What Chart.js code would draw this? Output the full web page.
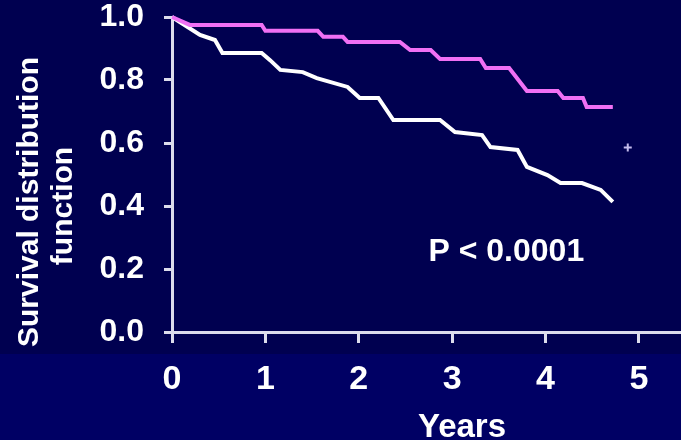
<!DOCTYPE html>
<html>
<head>
<meta charset="utf-8">
<script src="https://cdn.jsdelivr.net/npm/chart.js@4"></script>
<style>
  html, body { margin: 0; padding: 0; background: #000050; }
  #wrap { width: 681px; height: 440px; }
</style>
</head>
<body>
<div id="wrap"><canvas id="c" width="681" height="440"></canvas></div>
<script>
// ---- data ----
const groupAYears = [0, 0.19, 0.96, 1.0, 1.56, 1.62, 1.83, 1.88, 2.44, 2.55, 2.77, 2.87, 3.30, 3.36, 3.61, 3.80, 4.13, 4.19, 4.40, 4.44, 4.72];
const groupASurv  = [1.0, 0.975, 0.975, 0.956, 0.956, 0.937, 0.937, 0.921, 0.921, 0.895, 0.895, 0.867, 0.867, 0.838, 0.838, 0.765, 0.765, 0.743, 0.743, 0.714, 0.714];

const groupBYears = [0, 0.30, 0.46, 0.54, 0.96, 1.05, 1.16, 1.40, 1.55, 1.88, 2.01, 2.21, 2.37, 2.87, 3.03, 3.32, 3.41, 3.70, 3.80, 4.02, 4.16, 4.39, 4.59, 4.72];
const groupBSurv  = [1.0, 0.943, 0.927, 0.886, 0.886, 0.863, 0.832, 0.825, 0.806, 0.778, 0.743, 0.743, 0.673, 0.673, 0.635, 0.625, 0.587, 0.578, 0.524, 0.498, 0.473, 0.473, 0.451, 0.413];

const censorYears = [4.88];
const censorSurv  = [0.586];

const xTickLabels = ['0', '1', '2', '3', '4', '5'];
const yTickLabels = ['0.0', '0.2', '0.4', '0.6', '0.8', '1.0'];
const yTitleLines = ['Survival distribution', 'function'];
const xTitle = 'Years';
const pText = 'P < 0.0001';
const pPos = [3.58, 0.254];

const toPts = (xs, ys) => xs.map((x, i) => ({ x: x, y: ys[i] }));

const FONT = '"Liberation Sans", Arial, Helvetica, sans-serif';
const AXIS = '#dcdcec';

const bgPlugin = {
  id: 'bg',
  beforeDraw(chart) {
    const ctx = chart.ctx;
    ctx.save();
    ctx.fillStyle = '#000050';
    ctx.fillRect(0, 0, chart.width, 354);
    ctx.fillStyle = '#000064';
    ctx.fillRect(0, 354, chart.width, chart.height - 354);
    ctx.restore();
  }
};

const textPlugin = {
  id: 'texts',
  afterDraw(chart) {
    const ctx = chart.ctx;
    const xs = chart.scales.x, ys = chart.scales.y;
    ctx.save();
    ctx.fillStyle = '#ffffff';
    ctx.textAlign = 'center';
    ctx.textBaseline = 'middle';
    // y axis title (two rotated lines)
    ctx.font = 'bold 30px ' + FONT;
    ctx.save();
    ctx.translate(30, 202);
    ctx.rotate(-Math.PI / 2);
    ctx.fillText(yTitleLines[0], 0, 0);
    ctx.restore();
    ctx.save();
    ctx.translate(64, 206);
    ctx.rotate(-Math.PI / 2);
    ctx.fillText(yTitleLines[1], 0, 0);
    ctx.restore();
    // x axis title
    ctx.font = 'bold 33px ' + FONT;
    ctx.textBaseline = 'alphabetic';
    ctx.fillText(xTitle, 462, 437);
    // p-value annotation
    ctx.font = 'bold 32px ' + FONT;
    ctx.textBaseline = 'middle';
    ctx.fillText(pText, xs.getPixelForValue(pPos[0]), ys.getPixelForValue(pPos[1]));
    ctx.restore();
  }
};

new Chart(document.getElementById('c'), {
  type: 'line',
  data: {
    datasets: [
      {
        label: 'Group A',
        data: toPts(groupAYears, groupASurv),
        borderColor: '#f070f4',
        borderWidth: 4,
        pointRadius: 0,
        tension: 0,
        fill: false,
        clip: false
      },
      {
        label: 'Group B',
        data: toPts(groupBYears, groupBSurv),
        borderColor: '#ffffff',
        borderWidth: 4,
        pointRadius: 0,
        tension: 0,
        fill: false,
        clip: false
      },
      {
        type: 'scatter',
        label: 'Censored',
        data: toPts(censorYears, censorSurv),
        showLine: false,
        pointStyle: 'cross',
        pointRadius: 4,
        borderWidth: 2,
        borderColor: '#c4bcec',
        backgroundColor: '#c4bcec'
      }
    ]
  },
  options: {
    responsive: false,
    animation: false,
    events: [],
    layout: { autoPadding: false, padding: { top: 17, right: 0, bottom: 0, left: 0 } },
    plugins: { legend: { display: false }, tooltip: { enabled: false } },
    scales: {
      x: {
        type: 'linear',
        min: 0,
        max: 5.45,
        afterFit(s) { s.height = 108; s.paddingLeft = 0; s.paddingRight = 0; },
        ticks: {
          stepSize: 1,
          includeBounds: false,
          autoSkip: false,
          maxRotation: 0,
          color: '#ffffff',
          padding: 20,
          font: { family: FONT, weight: 'bold', size: 34, lineHeight: 1 },
          callback: (v, i) => xTickLabels[i]
        },
        grid: { drawOnChartArea: false, drawTicks: true, tickLength: 11, color: AXIS, lineWidth: 3 },
        border: { display: true, color: AXIS, width: 3 }
      },
      y: {
        type: 'linear',
        min: 0,
        max: 1,
        afterFit(s) { s.width = 172; s.paddingTop = 0; s.paddingBottom = 0; },
        ticks: {
          stepSize: 0.2,
          autoSkip: false,
          color: '#ffffff',
          padding: 20,
          font: { family: FONT, weight: 'bold', size: 32, lineHeight: 1 },
          callback: (v, i) => yTickLabels[i]
        },
        grid: { drawOnChartArea: false, drawTicks: true, tickLength: 8, color: AXIS, lineWidth: 3 },
        border: { display: true, color: AXIS, width: 3 }
      }
    }
  },
  plugins: [bgPlugin, textPlugin]
});
</script>
</body>
</html>
